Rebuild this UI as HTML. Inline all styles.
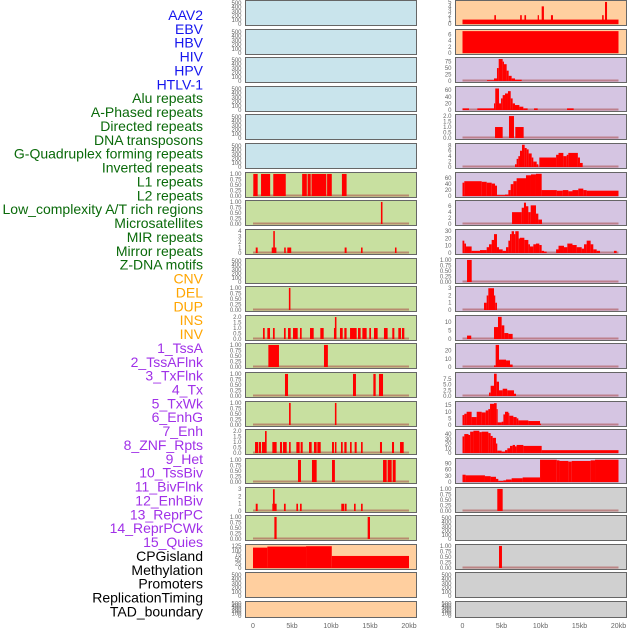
<!DOCTYPE html>
<html><head><meta charset="utf-8"><style>
html,body{margin:0;padding:0;background:#fff;}
body{width:630px;height:630px;overflow:hidden;font-family:"Liberation Sans",sans-serif;}
svg{display:block}
</style></head><body>
<svg id="chart" width="630" height="630" viewBox="0 0 630 630" xmlns="http://www.w3.org/2000/svg"></svg>
<script>
// ---- labels ----
const labelNames = ["AAV2","EBV","HBV","HIV","HPV","HTLV-1","Alu repeats","A-Phased repeats","Directed repeats","DNA transposons","G-Quadruplex forming repeats","Inverted repeats","L1 repeats","L2 repeats","Low_complexity A/T rich regions","Microsatellites","MIR repeats","Mirror repeats","Z-DNA motifs","CNV","DEL","DUP","INS","INV","1_TssA","2_TssAFlnk","3_TxFlnk","4_Tx","5_TxWk","6_EnhG","7_Enh","8_ZNF_Rpts","9_Het","10_TssBiv","11_BivFlnk","12_EnhBiv","13_ReprPC","14_ReprPCWk","15_Quies","CPGisland","Methylation","Promoters","ReplicationTiming","TAD_boundary"];
const labelGroups = [0,0,0,0,0,0,1,1,1,1,1,1,1,1,1,1,1,1,1,2,2,2,2,2,3,3,3,3,3,3,3,3,3,3,3,3,3,3,3,4,4,4,4,4];
const xTickLabels = ["0","5kb","10kb","15kb","20kb"];
const xTickValues = [0,5,10,15,20];

// ---- tick sets ----
const T500 = [0,100,200,300,400,500];
const T1 = [0,0.25,0.5,0.75,1];
const T2 = [0,0.5,1,1.5,2];

// ---- left column series [startKb, endKb, value] ----
const L6 = [[0.04,0.6,1],[1.03,2.2,1],[2.6,4.2,1],[6.3,6.9,1],[7.0,7.4,1],[7.5,9.4,1],[9.5,10.1,1],[11.4,12.0,1]];
const L7 = [[16.4,16.6,1]];
const L8 = [[0.35,0.6,1],[2.4,3.0,1],[2.6,2.8,4],[4.0,4.2,1],[4.4,4.9,1],[11.75,12.0,1],[13.85,14.05,1],[18.2,18.4,1]];
const L10 = [[4.6,4.8,1]];
const L11 = [[1.28,1.5,1],[1.84,2.18,1],[2.56,2.78,1],[3.97,4.19,1],[4.49,4.83,1],[5.13,5.73,1],[6.03,6.24,1],[7.31,7.78,1],[8.63,9.06,1],[10.38,10.64,1],[10.5,10.7,2],[11.15,11.5,1],[11.71,12.0,1],[12.44,13.29,1],[13.46,13.8,1],[14.02,14.57,1],[14.91,15.13,1],[15.51,15.98,1],[16.79,17.26,1],[17.86,18.12,1],[18.63,18.97,1],[19.1,19.4,1]];
const L12 = [[1.97,3.33,1],[9.1,9.6,1]];
const L13 = [[4.1,4.49,1],[12.82,13.2,1],[15.43,15.73,1],[16.15,16.67,1]];
const L14 = [[4.62,4.83,1],[10.5,10.7,1]];
const L15 = [[0.26,0.68,1],[0.77,1.03,1],[1.15,1.54,1],[1.54,1.75,2],[2.48,3.03,1],[3.46,3.72,1],[3.85,4.32,1],[4.62,4.83,1],[5.56,5.98,1],[6.11,6.37,1],[7.18,7.52,1],[7.82,8.16,1],[8.25,8.68,1],[10.13,10.38,1],[10.5,10.7,1],[11.28,11.5,1],[11.71,12.0,1],[12.44,12.65,1],[13.03,13.29,1],[13.85,14.06,1],[16.28,16.54,1],[17.82,18.08,1],[18.85,19.32,1]];
const L16 = [[5.77,6.15,1],[7.56,8.16,1],[10.13,10.5,1],[16.67,17.14,1],[17.26,17.78,1],[17.91,18.29,1]];
const L17 = [[0.35,0.6,1],[2.48,3.03,1],[2.56,2.78,3],[3.97,4.19,1],[5.56,5.77,1],[6.03,6.24,1],[11.32,11.71,1],[11.79,12.0,1],[12.95,13.16,1],[13.85,14.06,1]];
const L18 = [[2.74,3.03,1],[14.7,15.0,1]];
const L19 = [[0,1.84,115],[1.84,6.8,121],[6.8,10.1,123],[10.1,20,68]];

// ---- right column series ----
const R0 = [[0,20,1],[4.08,4.29,2],[7.39,7.6,2],[7.94,8.15,2],[9.64,9.8,2],[10.15,10.44,4],[11.34,11.6,2],[17.9,18.1,2],[18.27,18.53,5]];
const R1 = [[0,20,7]];
const R2 = [[3.14,4.04,3],[4.04,4.42,10],[4.42,4.64,50],[4.64,5.15,85],[5.15,5.32,75],[5.32,5.66,65],[5.66,5.92,40],[5.92,6.3,20],[6.3,6.73,10],[6.73,7.59,5]];
const R3 = [[0,0.83,5],[1.9,4.04,5],[4.04,4.2,20],[4.2,4.68,65],[4.68,4.94,20],[4.94,5.15,35],[5.15,5.45,45],[5.45,5.83,50],[5.83,6.18,57],[6.18,6.43,35],[6.43,6.73,20],[6.73,7.29,15],[7.29,7.8,10],[7.8,8.35,5],[9.17,9.64,5],[13.4,14.25,5]];
const R4 = [[4.17,5.15,1],[5.96,6.6,2],[6.77,7.84,1]];
const R5 = [[6.73,6.94,1],[6.94,7.16,3],[7.16,7.37,4],[7.37,7.63,6],[7.63,7.97,8.2],[7.97,8.23,7],[8.23,8.48,6.5],[8.48,8.87,5],[8.87,9.08,3.5],[9.08,9.51,2],[9.51,9.72,1],[9.85,12.0,3.5],[12.0,12.31,4.5],[12.31,12.93,5.2],[12.93,13.36,4],[13.36,13.57,4.5],[13.57,14.79,5.2],[14.79,15.06,3.5],[15.06,15.41,1.5]];
const R6 = [[0,0.23,45],[0.23,2.46,50],[2.46,3.1,48],[3.1,3.74,45],[3.74,4.17,42],[4.17,4.42,35],[4.42,5.45,3],[5.45,5.88,5],[5.88,6.18,20],[6.18,6.52,40],[6.52,6.94,50],[6.94,8.14,60],[8.14,8.78,70],[8.78,9.42,73],[9.42,10.15,75],[10.15,12.09,20],[12.09,12.86,18],[12.86,13.57,20],[13.57,14.1,16],[14.1,14.85,20],[14.85,15.49,25],[15.49,15.92,20],[15.92,20,18]];
const R7 = [[6.35,7.59,4],[7.59,7.88,5.5],[7.88,8.14,7.2],[8.14,8.44,6],[8.44,8.74,4],[8.74,9.42,6.3],[9.42,9.72,3.5],[9.72,10.19,1.5]];
const R8 = [[0,0.23,17],[0.23,0.45,13],[0.45,1.17,9],[1.17,2.24,3],[2.24,3.1,4],[3.1,3.4,8],[3.4,3.74,12],[3.74,4.04,18],[4.04,4.42,26],[4.42,4.68,8],[4.68,5.15,5],[5.15,5.58,3],[5.58,5.88,8],[5.88,6.09,17],[6.09,6.3,26],[6.3,6.6,30],[6.6,6.77,26],[6.77,7.2,30],[7.2,7.37,20],[7.37,7.93,21],[7.93,8.44,18],[8.44,8.65,12],[8.65,9.08,9],[9.08,9.42,12],[9.42,9.85,13],[9.85,10.15,11],[10.15,10.45,3],[10.45,10.79,2],[12.0,12.31,5],[12.31,13.01,10],[13.01,13.44,8],[13.44,14.1,13],[14.1,14.64,11],[14.64,15.28,8],[15.28,15.58,6],[15.58,15.92,12],[15.92,16.43,17],[16.43,16.77,12],[16.77,17.2,5],[17.2,17.63,3],[19.42,19.76,3]];
const R9 = [[0.58,1.18,1]];
const R10 = [[2.76,3.1,1],[3.1,3.31,2],[3.31,4.04,3],[4.04,4.2,2],[4.2,4.42,1]];
const R11 = [[0.58,1.12,2],[4.04,4.55,7],[4.55,5.02,13],[5.02,5.36,8],[5.36,5.88,3.5],[5.88,6.43,3]];
const R12 = [[4.04,4.25,2],[4.25,4.68,27],[4.68,5.58,9],[5.58,6.09,8],[6.09,6.43,3]];
const R13 = [[3.4,3.61,1.5],[3.61,4.04,4.5],[4.04,4.38,9.8],[4.38,4.68,6.3],[4.68,5.15,2.5],[5.15,5.73,3.2],[5.73,6.6,2.5],[6.6,6.86,1]];
const R14 = [[0,0.23,7.5],[0.23,0.53,8.5],[0.53,1.17,10],[1.17,1.82,6],[1.82,2.46,10],[2.46,2.97,9.5],[2.97,3.31,11],[3.31,3.53,12],[3.53,4.04,16],[4.04,4.38,16.5],[4.38,4.51,12],[4.51,5.02,2],[5.02,5.24,2.5],[5.24,5.45,8],[5.45,5.88,10],[5.88,6.0,9],[6.0,6.52,7],[6.52,6.94,6],[6.94,7.16,5],[7.16,8.44,3.5],[8.44,9.94,3],[9.94,10.06,1]];
const R15 = [[0,0.23,35],[0.23,0.77,40],[0.77,0.98,38],[0.98,1.4,45],[1.4,2.16,47],[2.16,2.46,44],[2.46,3.31,45],[3.31,3.61,42],[3.61,3.87,36],[3.87,4.29,32],[4.29,4.46,20],[4.46,5.02,5],[5.02,5.45,3],[5.45,5.75,6],[5.75,6.09,10],[6.09,6.43,15],[6.43,6.73,17],[6.73,6.94,14],[6.94,7.8,17],[7.8,10.15,15],[10.15,20,6]];
const R16 = [[0,0.4,35],[0.4,2.88,32],[2.88,3.61,28],[3.61,4.29,25],[4.29,4.59,15],[4.59,5.24,5],[5.24,5.58,8],[5.58,6.3,12],[6.3,7.71,18],[7.71,9.94,22],[9.94,12.09,107],[12.09,12.43,104],[12.43,13.57,101],[13.57,14.0,98],[14.0,16.43,101],[16.43,16.99,104],[16.99,20,107]];
const R17 = [[4.46,5.15,1]];
const R19 = [[4.68,5.06,1]];

const BLUE="#c9e4ec", GREEN="#c8e0a0", ORANGE="#ffcf9f", PURPLE="#d5c5e2", GRAY="#d0d0d0";
// panel definitions: [data, ticks, yMax, background, tickDecimals]
const leftPanels = [
 [null,T500,530,BLUE,0],[null,T500,530,BLUE,0],[null,T500,530,BLUE,0],[null,T500,530,BLUE,0],[null,T500,530,BLUE,0],[null,T500,530,BLUE,0],
 [L6,T1,1.02,GREEN,2],[L7,T1,1.02,GREEN,2],[L8,[0,1,2,3,4],4.1,GREEN,0],[null,T500,530,GREEN,0],[L10,T1,1.02,GREEN,2],
 [L11,T2,2.05,GREEN,1],[L12,T1,1.02,GREEN,2],[L13,T1,1.02,GREEN,2],[L14,T1,1.02,GREEN,2],[L15,T2,2.05,GREEN,1],
 [L16,T1,1.02,GREEN,2],[L17,[0,1,2,3],3.1,GREEN,0],[L18,T1,1.02,GREEN,2],[L19,[0,25,50,75,100,125],127,ORANGE,0],
 [null,T500,530,ORANGE,0],[null,T500,530,ORANGE,0]
];
const rightPanels = [
 [R0,[0,1,2,3,4,5],5.1,ORANGE,0],[R1,[0,2,4,6],7.2,ORANGE,0],[R2,[0,25,50,75],87,PURPLE,0],[R3,[0,20,40,60],68,PURPLE,0],
 [R4,T2,2.05,PURPLE,1],[R5,[0,2,4,6,8],8.3,PURPLE,0],[R6,[0,20,40,60],76,PURPLE,0],[R7,[0,2,4,6],7.6,PURPLE,0],
 [R8,[0,10,20,30],31,PURPLE,0],[R9,T1,1.02,PURPLE,2],[R10,[0,1,2,3],3.1,PURPLE,0],[R11,[0,5,10],13.2,PURPLE,0],
 [R12,[0,10,20],27.5,PURPLE,0],[R13,[0,2.5,5,7.5],9.9,PURPLE,1],[R14,[0,5,10,15],17,PURPLE,0],[R15,[0,10,20,30,40],47.5,PURPLE,0],
 [R16,[0,30,60,90],108,PURPLE,0],[R17,T1,1.02,GRAY,2],[null,T500,530,GRAY,0],[R19,T1,1.02,GRAY,2],
 [null,T500,530,GRAY,0],[null,T500,530,GRAY,0]
];

const NS="http://www.w3.org/2000/svg";
const svg=document.getElementById('chart');
function mk(tag,attrs,parent){const e=document.createElementNS(NS,tag);for(const k in attrs)e.setAttribute(k,attrs[k]);(parent||svg).appendChild(e);return e;}

// labels
const groupColors=["#1515ee","#0a6a0a","#ffa500","#a030e8","#000000"];
labelNames.forEach((t,i)=>{
  const el=mk('text',{x:203,y:20+i*13.87,'text-anchor':'end','font-size':'14','font-family':'"Liberation Sans",sans-serif',fill:groupColors[labelGroups[i]]});
  el.textContent=t;
  
  
});

function rowTop(i){return Math.round(i*28.62)+0.5;}
function rowH(i){return i===21?16:25;}

function drawColumn(panels,px,x0,colName){
  const pw=171;
  const xs=kb=>x0+kb*7.8;
  panels.forEach((p,i)=>{
    const [data,ticks,ymax,bg,dec]=p;
    const top=rowTop(i),h=rowH(i);
    const g=mk('g',{});
    
    
    const base=top+h-1.5, usable=h-2.5;
    const ys=v=>base-(v/ymax)*usable;
    const r=mk('rect',{x:px,y:top,width:pw,height:h,fill:bg,stroke:'#666','stroke-width':1},g);
    
    
    ticks.forEach(tv=>{
      const t=mk('text',{x:px-4,y:ys(tv)+2,'text-anchor':'end','font-size':'6','fill':'#666','font-family':'"Liberation Sans",sans-serif'},g);
      t.textContent=tv.toFixed(dec);
      
      
    });
    if(data){
      const s=mk('rect',{x:xs(0),y:base-1.5,width:xs(20)-xs(0),height:2,fill:'rgba(170,70,70,0.55)'},g);
      
      
      data.forEach(d=>{
        const b=mk('rect',{x:xs(d[0]),y:ys(d[2]),width:Math.max(0.8,xs(d[1])-xs(d[0])),height:base-ys(d[2]),fill:'#ff0000'},g);
        
        
      });
    }
  });
  xTickValues.forEach((v,k)=>{
    const t=mk('text',{x:xs(v),y:628,'text-anchor':'middle','font-size':'7','fill':'#666','font-family':'"Liberation Sans",sans-serif'});
    t.textContent=xTickLabels[k];
    
    
  });
}
drawColumn(leftPanels,245.5,253,'left');
drawColumn(rightPanels,455.5,462.5,'right');
</script>
</body></html>
